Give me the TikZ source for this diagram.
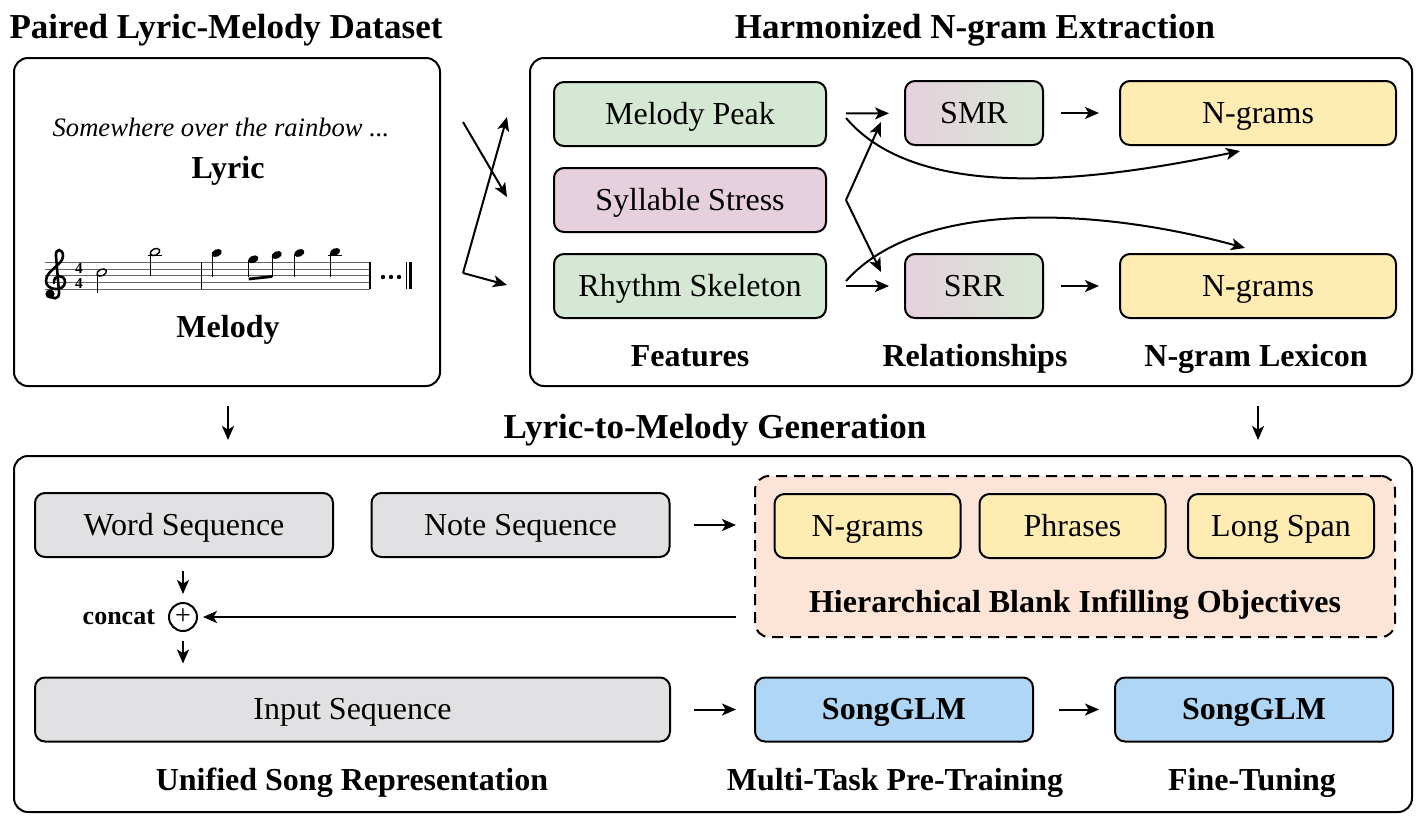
\documentclass[tikz,border=0pt]{standalone}
\usepackage{fontspec}
\setmainfont{Liberation Serif}
\definecolor{featgreen}{RGB}{213, 232, 212}
\definecolor{stresspink}{RGB}{230, 208, 222}
\definecolor{gramyellow}{RGB}{255, 236, 178}
\definecolor{seqgray}{RGB}{225, 225, 227}
\definecolor{glmblue}{RGB}{176, 214, 245}
\definecolor{objpeach}{RGB}{252, 228, 214}
\usetikzlibrary{arrows.meta, positioning}

\begin{document}
\begin{tikzpicture}[x=0.5pt, y=-0.5pt,
  panel/.style={draw, line width=1pt, rounded corners=7pt, inner sep=0pt},
  rbox/.style={draw, line width=1pt, rounded corners=5pt, inner sep=0pt, minimum height=32pt,
               text height=13pt, text depth=3pt, font=\fontsize{16}{19}\selectfont},
  featbox/.style={rbox, fill=featgreen, minimum width=136pt},
  relbox/.style={rbox, left color=stresspink, right color=featgreen, minimum width=69pt},
  grambox/.style={rbox, fill=gramyellow, minimum width=138pt},
  objbox/.style={rbox, fill=gramyellow, minimum width=93pt},
  seqbox/.style={rbox, fill=seqgray, minimum width=149pt},
  glmbox/.style={rbox, fill=glmblue, minimum width=139pt, font=\fontsize{16}{19}\selectfont\bfseries},
  titletext/.style={font=\fontsize{17.5}{20}\selectfont\bfseries, text height=14pt, text depth=3pt},
  lbltext/.style={font=\fontsize{16}{19}\selectfont\bfseries, text height=13pt, text depth=3pt},
  arr/.style={-{Stealth[length=7pt, width=6pt, inset=1.8pt]}, line width=1pt}]
  \useasboundingbox (0,0) rectangle (1428,826);

  % Paired dataset
  \node[titletext] (dstitle) at (226,27) {Paired Lyric-Melody Dataset};
  \node[panel, minimum width=213pt, minimum height=164pt] (dataset) at (227,222) {};
  \node[font=\fontsize{13.3}{16}\selectfont\itshape] (lyrtext) at (221,127) {Somewhere over the rainbow ...};
  \node[lbltext] (lyric) at (228,168) {Lyric};
  \node[lbltext] (melody) at (228,327) {Melody};

  % Melody staff
  \foreach \y in {262.3, 269, 275.7, 282.3, 289}
    \draw[line width=0.5pt, black!60] (45,\y) -- (370,\y);
  \draw[line width=0.7pt] (201.7,262.3) -- (201.7,289) (370,262.3) -- (370,289);
  \draw[line width=1.3pt, line cap=round] (50,294) .. controls (51,300) and (60,300) .. (59,292) -- (56,256)
    .. controls (55,248) and (63,248) .. (63,256) .. controls (63,265) and (46,270) .. (46,281)
    .. controls (46,291) and (65,292) .. (65,282) .. controls (65,274) and (53,274) .. (54,283);
  \fill (50,294) circle (2.3pt);
  \node[font=\fontsize{7.6}{7.2}\selectfont\bfseries, align=center, inner sep=0pt] (meter) at (79,276) {4\\4};
  \foreach \x/\y in {155/252, 335/252}
    \draw[line width=0.6pt] (\x-7,255.6) -- (\x+7,255.6);
  \foreach \x/\y/\e in {101.7/272.5/293, 155/252/275.7}{
    \draw[line width=0.7pt, shift={(\x,\y)}, rotate=25] (0,0) ellipse (2.5pt and 1.6pt);
    \draw[line width=0.6pt] (\x-4.6,\y+1) -- (\x-4.6,\e);
  }
  \foreach \x/\y in {216.7/253, 253.3/259.3, 276.7/255, 299.3/253, 335/252}{
    \fill[shift={(\x,\y)}, rotate=25] (0,0) ellipse (2.7pt and 1.8pt);
    \draw[line width=0.6pt] (\x-4.6,\y+1) -- (\x-4.6,277);
  }
  \draw[line width=1.4pt] (248.7,279) -- (272.1,276.5);
  \foreach \x in {383, 391, 399}
    \fill (\x,277) circle (1.1pt);
  \draw[line width=0.5pt] (406,262.3) -- (406,289);
  \draw[line width=1.6pt] (410.5,262.3) -- (410.5,289);

  % Harmonized extraction
  \node[titletext] (extitle) at (975,27) {Harmonized N-gram Extraction};
  \node[panel, minimum width=441pt, minimum height=164pt] (extract) at (971,222) {};
  \node[featbox] (peak) at (690,114) {Melody Peak};
  \node[featbox, fill=stresspink] (stress) at (690,200) {Syllable Stress};
  \node[featbox] (rhythm) at (690,286) {Rhythm Skeleton};
  \node[relbox] (smr) at (974,113) {SMR};
  \node[relbox] (srr) at (974,286) {SRR};
  \node[grambox] (gramA) at (1258,113) {N-grams};
  \node[grambox] (gramB) at (1258,286) {N-grams};
  \node[lbltext] (features) at (690,356) {Features};
  \node[lbltext] (relations) at (975,356) {Relationships};
  \node[lbltext] (lexicon) at (1256,356) {N-gram Lexicon};

  \draw[arr, shorten <=9.5pt, shorten >=7.5pt] (peak) -- (smr);
  \draw[arr, shorten <=9.5pt, shorten >=7.5pt] (rhythm) -- (srr);
  \draw[arr, shorten <=8.5pt, shorten >=10pt] (smr) -- (gramA);
  \draw[arr, shorten <=8.5pt, shorten >=10pt] (srr) -- (gramB);
  \draw[arr] ([xshift=9.5pt]stress.east) -- ([xshift=-11.5pt, yshift=-4.5pt]smr.west);
  \draw[arr] ([xshift=9.5pt]stress.east) -- ([xshift=-11.5pt, yshift=7pt]srr.west);
  \draw[arr] ([xshift=9.5pt, yshift=-2pt]peak.east) .. controls (920,205) and (1100,180) .. ([xshift=-9pt, yshift=-2.5pt]gramA.south);
  \draw[arr] ([xshift=9.5pt, yshift=2.5pt]rhythm.east) .. controls (920,198) and (1100,208) .. ([xshift=-6.5pt, yshift=2.5pt]gramB.north);

  % Dataset to extraction
  \coordinate (lyrA) at (463,122);
  \coordinate (lyrB) at (507,197);
  \coordinate (melA) at (463,273);
  \coordinate (melB) at (507,117);
  \coordinate (melC) at (507,285);
  \draw[arr] (lyrA) -- (lyrB);
  \draw[arr] (melA) -- (melB);
  \draw[arr] (melA) -- (melC);

  % Generation
  \node[titletext] (gentitle) at (715,427) {Lyric-to-Melody Generation};
  \coordinate (dsdown) at (228,440);
  \coordinate (exdown) at (1258,440);
  \draw[arr, shorten <=9.5pt] (dataset.south -| dsdown) -- (dsdown);
  \draw[arr, shorten <=9.5pt] (extract.south -| exdown) -- (exdown);
  \node[panel, minimum width=699pt, minimum height=178pt] (generate) at (713,634) {};

  \node[seqbox] (word) at (184,525) {Word Sequence};
  \node[seqbox] (note) at (520.5,525) {Note Sequence};
  \node[draw, line width=1pt, dash pattern=on 5.5pt off 3.5pt, rounded corners=7pt, fill=objpeach,
        minimum width=320pt, minimum height=80.5pt] (objectives) at (1075,556.5) {};
  \node[objbox] (ngr) at (867.5,526) {N-grams};
  \node[objbox] (phr) at (1072.5,526) {Phrases};
  \node[objbox] (span) at (1281,526) {Long Span};
  \node[lbltext] (objlabel) at (1075,602) {Hierarchical Blank Infilling Objectives};
  \node[draw, circle, line width=1pt, minimum size=14pt, inner sep=0pt, font=\fontsize{14}{14}\selectfont] (concat) at (183,617) {+};
  \node[font=\fontsize{13}{15}\selectfont\bfseries, left=3pt of concat] (concatlbl) {concat};
  \node[seqbox, minimum width=317.5pt] (input) at (352.5,709.5) {Input Sequence};
  \node[glmbox] (glmA) at (894,709.5) {SongGLM};
  \node[glmbox] (glmB) at (1254,709.5) {SongGLM};
  \node[lbltext] (unified) at (352,780) {Unified Song Representation};
  \node[lbltext] (pretrain) at (895,780) {Multi-Task Pre-Training};
  \node[lbltext] (finetune) at (1252,780) {Fine-Tuning};

  \draw[arr, shorten <=11.5pt, shorten >=9pt] (note) -- (objectives.west |- note);
  \draw[arr, shorten >=2.5pt] ([xshift=-9pt]objectives.west |- concat) -- (concat);
  \draw[arr, shorten <=6.5pt, shorten >=4pt] (word.south -| concat) -- (concat);
  \draw[arr, shorten <=4.5pt, shorten >=6.5pt] (concat) -- (input.north -| concat);
  \draw[arr, shorten <=11.5pt, shorten >=9pt] (input) -- (glmA);
  \draw[arr, shorten <=12.5pt, shorten >=7.5pt] (glmA) -- (glmB);
\end{tikzpicture}
\end{document}
